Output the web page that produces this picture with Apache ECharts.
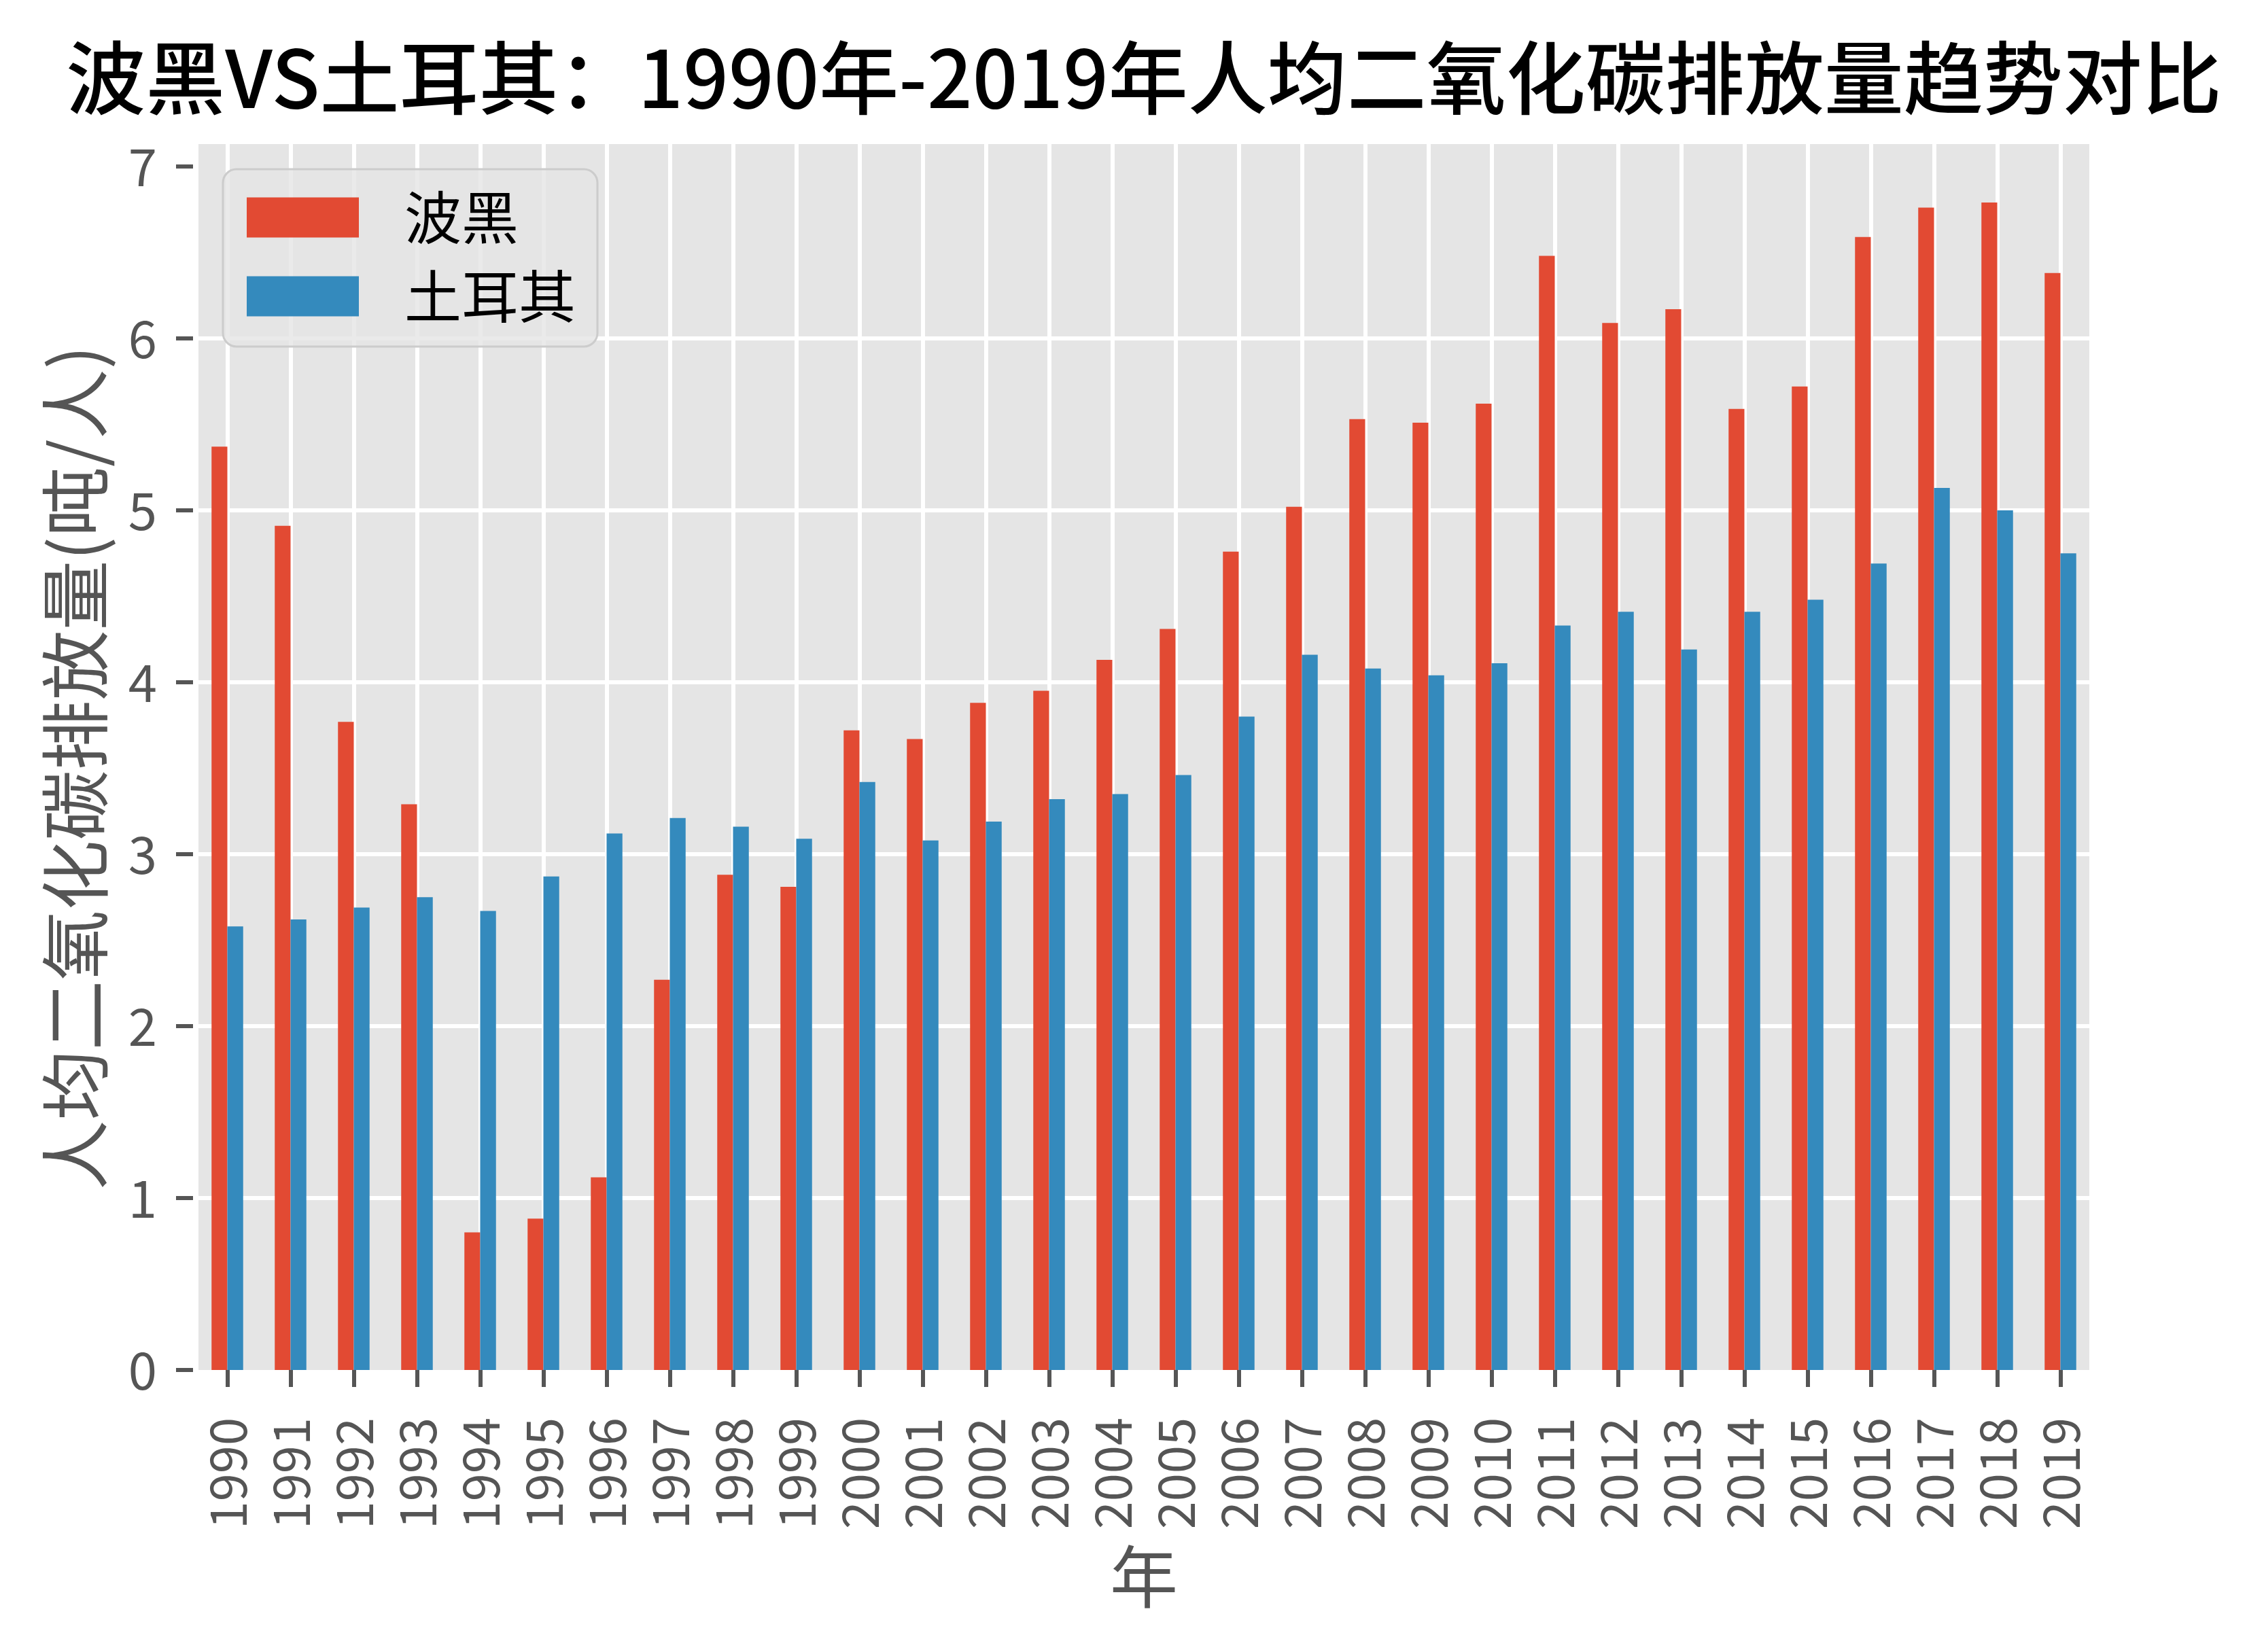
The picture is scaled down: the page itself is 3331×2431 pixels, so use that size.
<!DOCTYPE html>
<html><head><meta charset="utf-8">
<script src="https://cdn.jsdelivr.net/npm/echarts@6/dist/echarts.min.js"></script>
<style>html,body{margin:0;padding:0;background:#fff}#c{width:3331px;height:2431px}</style>
</head><body><div id="c"></div>
<script>
const years = ['1990','1991','1992','1993','1994','1995','1996','1997','1998','1999',
  '2000','2001','2002','2003','2004','2005','2006','2007','2008','2009',
  '2010','2011','2012','2013','2014','2015','2016','2017','2018','2019'];
const bihValues = [5.37, 4.91, 3.77, 3.29, 0.80, 0.88, 1.12, 2.27, 2.88, 2.81,
  3.72, 3.67, 3.88, 3.95, 4.13, 4.31, 4.76, 5.02, 5.53, 5.51,
  5.62, 6.48, 6.09, 6.17, 5.59, 5.72, 6.59, 6.76, 6.79, 6.38];
const turValues = [2.58, 2.62, 2.69, 2.75, 2.67, 2.87, 3.12, 3.21, 3.16, 3.09,
  3.42, 3.08, 3.19, 3.32, 3.35, 3.46, 3.80, 4.16, 4.08, 4.04,
  4.11, 4.33, 4.41, 4.19, 4.41, 4.48, 4.69, 5.13, 5.00, 4.75];
const yTicks = [0, 1, 2, 3, 4, 5, 6, 7];
const yMax = 7.13;
const seriesNames = ['波黑', '土耳其'];
const titleText = '波黑VS土耳其：1990年-2019年人均二氧化碳排放量趋势对比';
const yName = '人均二氧化碳排放量(吨/人)';
const xName = '年';

const FONT = '"Noto Sans CJK SC", "Noto Sans", sans-serif';
const chart = echarts.init(document.getElementById('c'), null, {renderer: 'canvas'});
chart.setOption({
  animation: false,
  backgroundColor: '#ffffff',
  textStyle: {fontFamily: FONT},
  graphic: [
    {type: 'rect', z: -10, silent: true,
     shape: {x: 292, y: 212, width: 2782, height: 1804},
     style: {fill: '#E5E5E5'}},
    {type: 'text', x: 1683, y: 115, silent: true,
     style: {text: titleText, fontSize: 117, fontWeight: 500, fontFamily: FONT, fill: '#000000',
             align: 'center', verticalAlign: 'middle', textAlign: 'center', textVerticalAlign: 'middle'}}
  ],
  grid: {left: 288, top: 212, width: 2790, height: 1804, show: false},
  legend: {
    data: seriesNames, orient: 'vertical', left: 328, top: 249,
    padding: [29, 32, 32, 35], itemWidth: 165, itemHeight: 59, itemGap: 32,
    icon: 'rect', backgroundColor: 'rgba(229,229,229,0.8)', borderColor: '#CCCCCC',
    borderWidth: 3, borderRadius: 20,
    textStyle: {fontSize: 84, color: '#000000', lineHeight: 59, padding: [0, 0, 0, 62], fontFamily: FONT}
  },
  xAxis: {
    type: 'category', data: years, boundaryGap: true, offset: 8,
    axisLine: {show: false},
    axisTick: {show: true, interval: 0, length: 25, alignWithLabel: true, lineStyle: {color: '#555555', width: 6}},
    axisLabel: {interval: 0, rotate: 90, fontSize: 74, color: '#555555', margin: 62, fontFamily: FONT},
    splitLine: {show: true, interval: 0, alignWithLabel: true, lineStyle: {color: '#ffffff', width: 6}},
    name: xName, nameLocation: 'middle', nameGap: 246,
    nameTextStyle: {fontSize: 100, color: '#555555', fontFamily: FONT}
  },
  yAxis: {
    type: 'value', min: 0, max: yMax, interval: 1, offset: 4,
    axisLine: {show: false},
    axisTick: {show: true, length: 25, customValues: yTicks, lineStyle: {color: '#555555', width: 6}},
    axisLabel: {customValues: yTicks, fontSize: 76, color: '#555555', margin: 53, fontFamily: FONT,
      formatter: function (v) { return Number.isInteger(v) ? String(v) : ''; }},
    splitLine: {show: true, showMinLine: false, showMaxLine: false, lineStyle: {color: '#ffffff', width: 6}},
    name: yName, nameLocation: 'middle', nameGap: 122,
    nameTextStyle: {fontSize: 103, color: '#555555', fontFamily: FONT, padding: [0, 32, 0, 0]}
  },
  series: [
    {name: seriesNames[0], type: 'bar', data: bihValues, barWidth: '25%', barGap: '0%',
     itemStyle: {color: '#E24A33'}},
    {name: seriesNames[1], type: 'bar', data: turValues, barWidth: '25%', barGap: '0%',
     itemStyle: {color: '#348ABD'}}
  ]
});
</script></body></html>
